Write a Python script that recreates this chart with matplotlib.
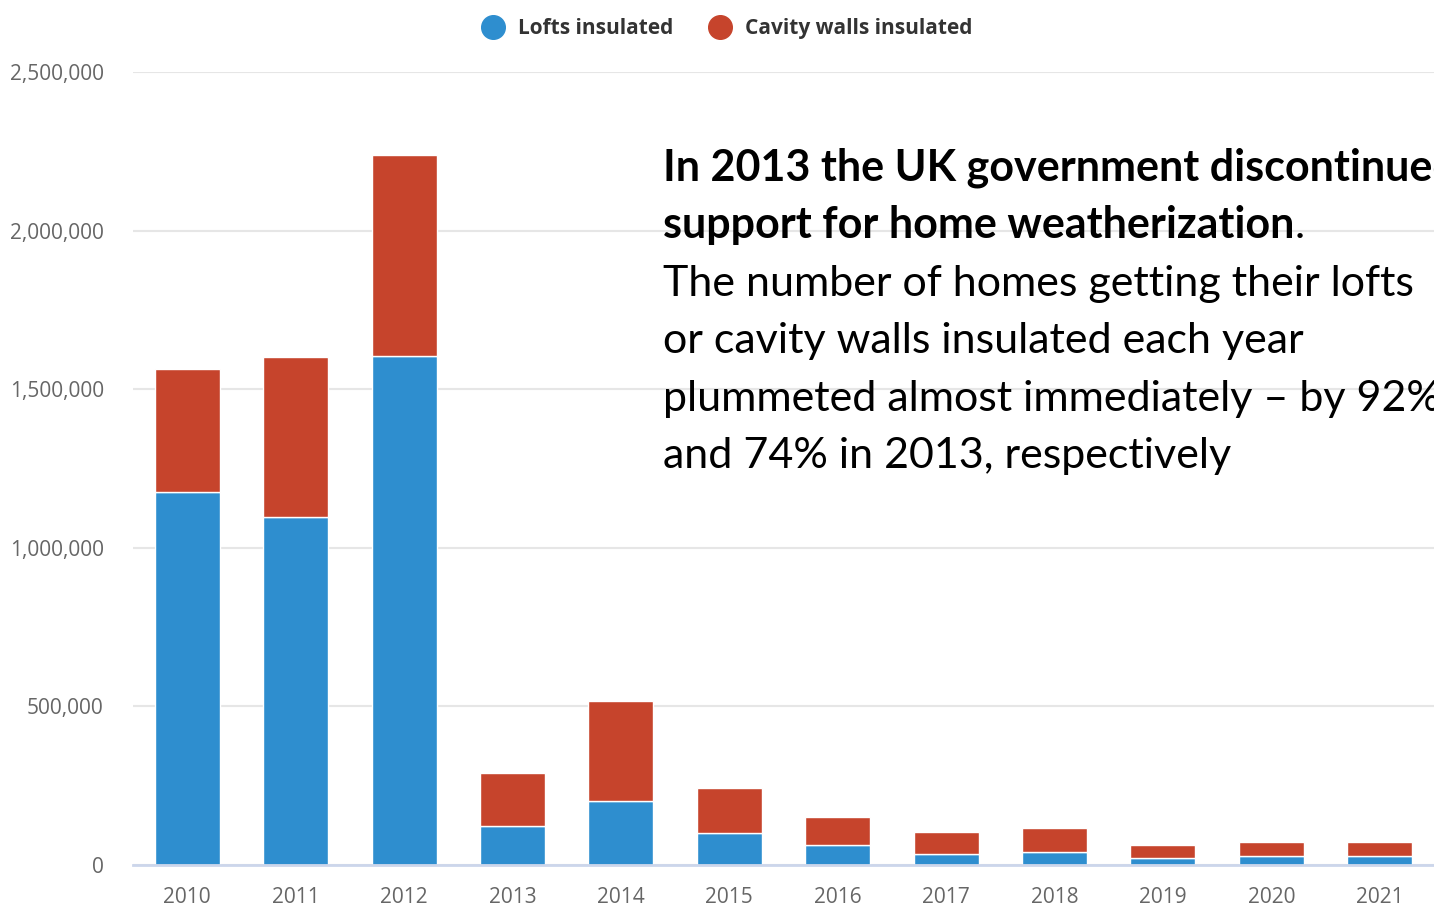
import numpy as np
import matplotlib.pyplot as plt

# UK home insulation measures per year
years = ['2010', '2011', '2012', '2013', '2014', '2015', '2016', '2017', '2018', '2019', '2020', '2021']
lofts = [1177000, 1098000, 1604000, 123000, 202000, 100000, 63000, 34000, 41000, 22000, 28000, 28000]
cavity = [387000, 503000, 634000, 166000, 316000, 142000, 88000, 71000, 76000, 42000, 43000, 43000]

blue = '#2e8ecf'
red = '#c6442c'

fig = plt.figure(figsize=(14.34, 9.07), dpi=100)
ax = fig.add_axes([133/1434, 1-865/907, 1 - 133/1434, (865-72)/907])

x = np.arange(len(years))
ax.bar(x, lofts, width=0.6, color=blue, edgecolor='white', linewidth=1, zorder=3)
ax.bar(x, cavity, bottom=lofts, width=0.6, color=red, edgecolor='white', linewidth=1, zorder=3)

ax.set_xlim(-0.5, 11.5)
ax.set_ylim(0, 2500000)
ax.set_yticks([0, 500000, 1000000, 1500000, 2000000, 2500000])
ax.set_yticklabels(['0', '500,000', '1,000,000', '1,500,000', '2,000,000', '2,500,000'])
ax.set_xticks(x)
ax.set_xticklabels(years)
ax.grid(axis='y', color='#e6e6e6', linewidth=1.5, zorder=0)
for s in ['top', 'right', 'left']:
    ax.spines[s].set_visible(False)
ax.spines['bottom'].set_color('#ccd6eb')
ax.spines['bottom'].set_linewidth(2)
ax.spines['bottom'].set_zorder(4)
ax.tick_params(length=0)
ax.tick_params(axis='y', pad=21, labelsize=15, labelcolor='#666666')
ax.tick_params(axis='x', pad=16, labelsize=15, labelcolor='#666666')
for lab in ax.get_xticklabels() + ax.get_yticklabels():
    lab.set_fontfamily('Open Sans')

# legend across the top
fig.lines.append(plt.Line2D([493/1434], [1-27/907], marker='o', markersize=17, color=blue,
                            transform=fig.transFigure))
fig.lines.append(plt.Line2D([720/1434], [1-27/907], marker='o', markersize=17, color=red,
                            transform=fig.transFigure))
fig.text(518/1434, 1-34/907, 'Lofts insulated', fontsize=15, fontweight='bold',
         color='#333333', va='baseline', family='Open Sans')
fig.text(745/1434, 1-34/907, 'Cavity walls insulated', fontsize=15, fontweight='bold',
         color='#333333', va='baseline', family='Open Sans')

# annotation, runs off the right edge
tx = 663/1434
note = [
    ('In 2013 the UK government discontinued', 'bold', 181),
    ('support for home weatherization', 'bold', 238),
    ('The number of homes getting their lofts', 'normal', 296),
    ('or cavity walls insulated each year', 'normal', 353),
    ('plummeted almost immediately \u2013 by 92%', 'normal', 411),
    ('and 74% in 2013, respectively', 'normal', 468),
]
for txt, w, yb in note:
    t = fig.text(tx, 1-yb/907, txt, fontsize=31, fontweight=w, color='black',
                 va='baseline', family='Lato')
    if txt.startswith('support'):
        fig.canvas.draw()
        bb = t.get_window_extent()
        fig.text(bb.x1/1434, 1-yb/907, '.', fontsize=31, color='black',
                 va='baseline', family='Lato')

fig.savefig('out.png', dpi=100)
